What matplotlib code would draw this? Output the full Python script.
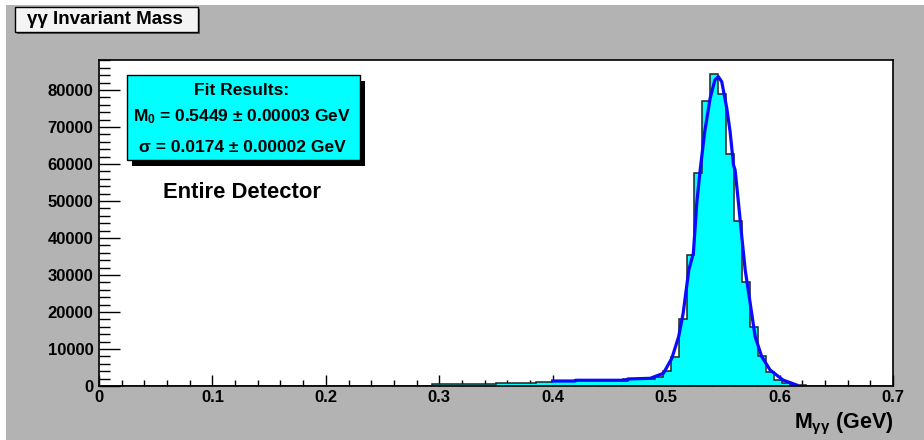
import numpy as np
import matplotlib
matplotlib.use("Agg")
import matplotlib.pyplot as plt
from matplotlib.patches import Rectangle
from matplotlib.ticker import MultipleLocator

plt.rcParams["font.family"] = ["Liberation Sans", "DejaVu Sans"]
plt.rcParams["font.weight"] = "bold"
plt.rcParams["mathtext.fontset"] = "custom"
plt.rcParams["mathtext.rm"] = "Liberation Sans:bold"
plt.rcParams["mathtext.it"] = "Liberation Sans:bold"
plt.rcParams["mathtext.bf"] = "Liberation Sans:bold"

n_bins = 100
x_min, x_max = 0.0, 0.7
counts = ([0] * 42 +
          [450] * 8 +
          [750] * 5 +
          [1000] * 2 +
          [1300] * 3 +
          [1550] * 6 +
          [1900] * 3 +
          [1950, 2300, 4100, 7800, 18100, 35400, 57600, 77000, 84200, 79000,
           62700, 44600, 28200, 15900, 8100, 3900, 1600, 800, 350, 150] +
          [0] * 11)

# ── Courbe d'ajustement ──────────────────────────────────────────────────────
fit_x = [0.400, 0.420, 0.4201, 0.466, 0.4661, 0.486, 0.4976, 0.505, 0.511,
         0.515, 0.520, 0.524, 0.527, 0.530, 0.534, 0.5388, 0.543, 0.546,
         0.549, 0.5535, 0.5564, 0.5594, 0.5608, 0.5638, 0.5667, 0.5697,
         0.5741, 0.5785, 0.5843, 0.5917, 0.603, 0.615]
fit_y = [1350, 1350, 1550, 1550, 1900, 2080, 3430, 7490, 13300,
         19650, 31400, 35900, 49400, 58400, 68700, 77800, 82700, 83600,
         82250, 75000, 68700, 59700, 58400, 49400, 40350, 31350,
         22350, 13300, 7920, 4320, 1620, 270]

fit_lines = ["Fit Results:",
             r"$M_0$ = 0.5449 ± 0.00003 GeV",
             "σ = 0.0174 ± 0.00002 GeV"]

W, H = 924, 440
GRAY = "#b3b3b3"
CYAN = "#00ffff"


def fx(px):
    return px / W


def fy(py):
    return 1 - py / H


fig = plt.figure(figsize=(W / 100, H / 100), dpi=100, facecolor="white")

# fond gris du canvas (bande blanche en haut et à gauche)
fig.add_artist(Rectangle((fx(6), 0), 1 - fx(6), fy(5), transform=fig.transFigure,
                         facecolor=GRAY, edgecolor="none", zorder=0))

ax = fig.add_axes([fx(99), fy(386), fx(893) - fx(99), fy(60) - fy(386)])
ax.set_facecolor("white")

edges = np.linspace(x_min, x_max, n_bins + 1)
ax.stairs(counts, edges, fill=True, color=CYAN, zorder=2)
ax.stairs(counts, edges, color="#222222", lw=1.1, zorder=3)
ax.plot(fit_x, fit_y, color="#0a0aff", lw=2.3, zorder=4, solid_joinstyle="round")

ax.set_xlim(x_min, x_max)
ax.set_ylim(0, 88100)

ax.xaxis.set_major_locator(MultipleLocator(0.1))
ax.xaxis.set_minor_locator(MultipleLocator(0.02))
ax.yaxis.set_major_locator(MultipleLocator(10000))
ax.yaxis.set_minor_locator(MultipleLocator(2000))
ax.xaxis.set_major_formatter(matplotlib.ticker.FuncFormatter(lambda v, p: f"{v:g}"))

ax.tick_params(axis="x", which="major", direction="in", length=8, width=1, pad=3,
               labelsize=12, top=False)
ax.tick_params(axis="x", which="minor", direction="in", length=4.5, width=1, top=False)
ax.tick_params(axis="y", which="major", direction="in", length=15, width=1, pad=4,
               labelsize=12, right=False)
ax.tick_params(axis="y", which="minor", direction="in", length=8, width=1, right=False)
for lab in ax.get_xticklabels() + ax.get_yticklabels():
    lab.set_fontweight("bold")
for sp in ax.spines.values():
    sp.set_linewidth(1.2)
    sp.set_zorder(5)

# titre de l'axe x
fig.text(fx(893), fy(428), r"$M_{γγ}$ (GeV)", ha="right", va="baseline",
         fontsize=15.5, fontweight="bold")

# boîte du titre
fig.add_artist(Rectangle((fx(17), fy(34)), fx(198) - fx(15), fy(7) - fy(32),
                         transform=fig.transFigure, facecolor="#555555",
                         edgecolor="none", zorder=6))
fig.add_artist(Rectangle((fx(15), fy(32)), fx(198) - fx(15), fy(7) - fy(32),
                         transform=fig.transFigure, facecolor="#f4f4f4",
                         edgecolor="black", lw=1, zorder=7))
fig.text(fx(105), fy(20), "γγ Invariant Mass", ha="center", va="center",
         fontsize=13.5, fontweight="bold", zorder=8)

# boîte des résultats de l'ajustement
fig.add_artist(Rectangle((fx(132), fy(166)), fx(360) - fx(127), fy(75) - fy(160),
                         transform=fig.transFigure, facecolor="black",
                         edgecolor="none", zorder=6))
fig.add_artist(Rectangle((fx(127), fy(160)), fx(360) - fx(127), fy(75) - fy(160),
                         transform=fig.transFigure, facecolor=CYAN,
                         edgecolor="black", lw=1, zorder=7))
for line, py in zip(fit_lines, [90, 117, 147]):
    fig.text(fx(242), fy(py), line, ha="center", va="center",
             fontsize=12.5, fontweight="bold", zorder=8)

fig.text(fx(242), fy(192), "Entire Detector", ha="center", va="center",
         fontsize=15.8, fontweight="bold")

fig.savefig("out.png", dpi=100, facecolor=fig.get_facecolor())
